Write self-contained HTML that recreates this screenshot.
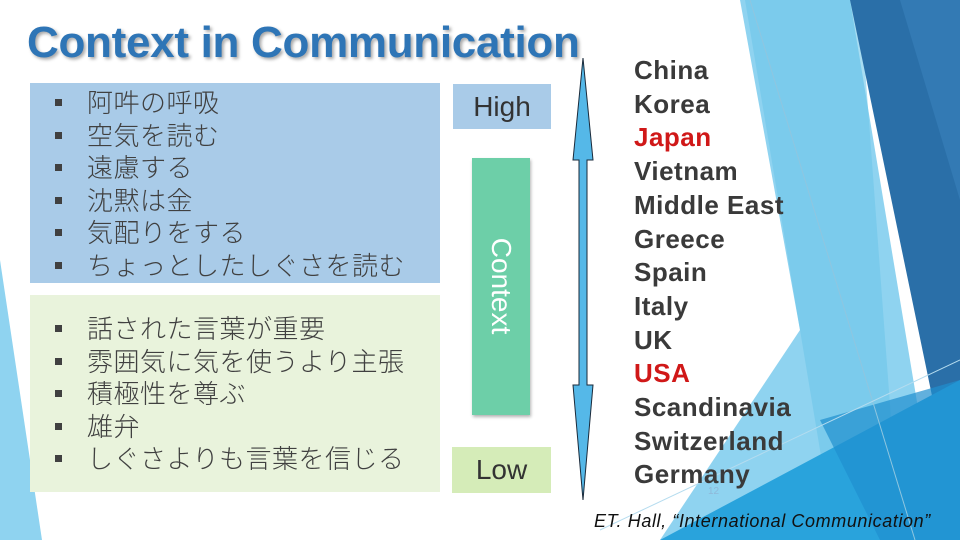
<!DOCTYPE html>
<html><head><meta charset="utf-8"><style>
body{margin:0;width:960px;height:540px;overflow:hidden;background:#fff;position:relative;font-family:"Liberation Sans","Noto Sans CJK JP",sans-serif}
.a{position:absolute}
.title{left:27px;top:18px;font-size:44px;font-weight:bold;color:#2e75b6;text-shadow:2px 2px 3px rgba(0,0,0,.35);white-space:nowrap;letter-spacing:-0.3px}
.box{position:absolute}
.jp{position:absolute;left:55px;font-size:26px;color:#404040;line-height:32.6px;font-family:"Noto Sans CJK JP",sans-serif;font-weight:300;white-space:nowrap;letter-spacing:0.5px}
.jp div:before{content:"";display:inline-block;width:7px;height:7px;background:#404040;margin-right:25px;vertical-align:6px}
.c{position:absolute;left:634px;top:54px;font-size:26px;font-weight:bold;color:#3a3a3a;line-height:33.7px;letter-spacing:0.5px}
.r{color:#d01818}
</style></head><body>
<svg class="a" style="left:0;top:0" width="960" height="540">
<polygon points="740,0 850,0 940,540 660,540 800,330" fill="#8fd3f0"/>
<polygon points="745,0 860,0 900,540 835,540" fill="#6ec6ea" opacity=".6"/>
<polygon points="850,0 960,0 960,450 937,420" fill="#2a6fa8"/>
<polygon points="900,0 960,0 960,200" fill="#3a82bd" opacity=".6"/>
<polygon points="660,540 960,380 960,540" fill="#29a3dc"/>
<polygon points="820,420 960,380 960,540 880,540" fill="#1f8fcf" opacity=".7"/>
<polygon points="0,260 42,540 0,540" fill="#8fd3f0"/>
<line x1="750" y1="0" x2="915" y2="540" stroke="#8fc6e0" stroke-width="1"/>
<line x1="600" y1="530" x2="960" y2="360" stroke="#b5dcef" stroke-width="1"/>
<polygon points="583,58 593,160 587,160 587,385 593,385 583,500 573,385 579,385 579,160 573,160" fill="#55b8e8" stroke="#1a2a3a" stroke-width="1"/>
</svg>
<div class="a title">Context in Communication</div>
<div class="box" style="left:30px;top:83px;width:410px;height:200px;background:#a9cbe8"></div>
<div class="box" style="left:30px;top:295px;width:410px;height:197px;background:#e9f3dc"></div>
<div class="box" style="left:453px;top:84px;width:98px;height:45px;background:#a9cbe8;font-size:28px;color:#333;text-align:center;line-height:45px">High</div>
<div class="box" style="left:472px;top:158px;width:58px;height:257px;background:#6dcfa8;box-shadow:1px 2px 3px rgba(0,0,0,.3)"><div style="position:absolute;left:29px;top:128px;transform:translate(-50%,-50%) rotate(90deg);font-size:28px;color:#fff;white-space:nowrap">Context</div></div>
<div class="box" style="left:452px;top:447px;width:99px;height:46px;background:#d5ecb8;font-size:28px;color:#333;text-align:center;line-height:46px">Low</div>
<div class="jp" style="top:86px"><div>阿吽の呼吸</div><div>空気を読む</div><div>遠慮する</div><div>沈黙は金</div><div>気配りをする</div><div>ちょっとしたしぐさを読む</div></div>
<div class="jp" style="top:312px"><div>話された言葉が重要</div><div>雰囲気に気を使うより主張</div><div>積極性を尊ぶ</div><div>雄弁</div><div>しぐさよりも言葉を信じる</div></div>
<div class="c">China<br>Korea<br><span class="r">Japan</span><br>Vietnam<br>Middle East<br>Greece<br>Spain<br>Italy<br>UK<br><span class="r">USA</span><br>Scandinavia<br>Switzerland<br>Germany</div>
<div class="a" style="left:708px;top:486px;font-size:10px;color:#8fb8d8">12</div>
<div class="a" style="left:594px;top:511px;font-size:18px;font-style:italic;color:#111;white-space:nowrap;letter-spacing:0.6px">ET. Hall, “International Communication”</div>
</body></html>
